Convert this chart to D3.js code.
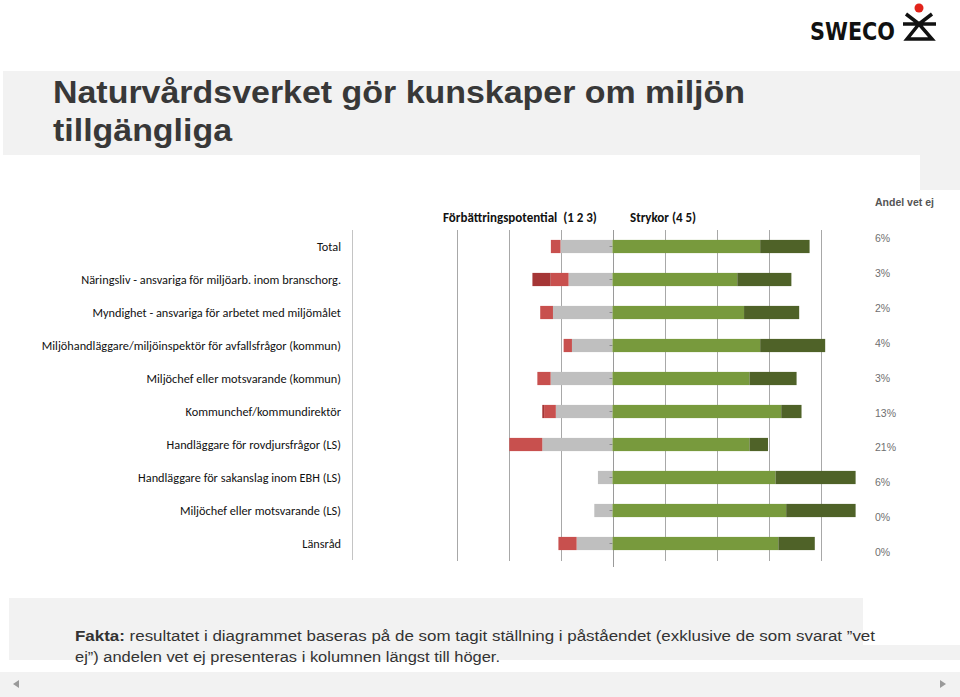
<!DOCTYPE html>
<html>
<head>
<meta charset="utf-8">
<script src="https://cdn.jsdelivr.net/npm/d3@7"></script>
<style>
  body { margin: 0; background: #fff; }
  svg { display: block; }
</style>
</head>
<body>
<script>
// data (percent of those who answered)
var categories = [
  "Total",
  "Näringsliv - ansvariga för miljöarb. inom branschorg.",
  "Myndighet - ansvariga för arbetet med miljömålet",
  "Miljöhandläggare/miljöinspektör för avfallsfrågor (kommun)",
  "Miljöchef eller motsvarande (kommun)",
  "Kommunchef/kommundirektör",
  "Handläggare för rovdjursfrågor (LS)",
  "Handläggare för sakanslag inom EBH (LS)",
  "Miljöchef eller motsvarande (LS)",
  "Länsråd"
];
var grade1 = [0, 7.0, 0, 0, 0, 0.7, 0, 0, 0, 0];
var grade2 = [3.7, 6.9, 4.9, 3.2, 5.1, 4.5, 12.7, 0, 0, 7.0];
var grade3 = [20.0, 16.9, 22.9, 15.6, 23.8, 21.8, 27.0, 5.6, 7.0, 13.8];
var grade4 = [56.8, 48.0, 50.6, 56.8, 52.7, 64.9, 52.7, 62.7, 66.8, 63.8];
var grade5 = [19.0, 20.8, 21.2, 25.0, 18.1, 7.8, 7.1, 30.8, 26.7, 14.0];
var vetEj = [6, 3, 2, 4, 3, 13, 21, 6, 0, 0];
var gridTicks = [-60, -40, -20, 0, 20, 40, 60, 80];

var title = ["Naturvårdsverket gör kunskaper om miljön", "tillgängliga"];
var legendNeg = "Förbättringspotential  (1 2 3)";
var legendPos = "Strykor (4 5)";
var vetEjTitle = "Andel vet ej";

var colors = {1: "#a53636", 2: "#c8504e", 3: "#bfbfbf", 4: "#789a3d", 5: "#4f6228"};

var svg = d3.select("body").append("svg").attr("width", 960).attr("height", 697);

// page background blocks
svg.append("rect").attr("x", 3).attr("y", 71).attr("width", 957).attr("height", 84).attr("fill", "#f2f2f2");
svg.append("rect").attr("x", 920).attr("y", 155).attr("width", 40).attr("height", 35).attr("fill", "#f2f2f2");
svg.append("rect").attr("x", 9).attr("y", 598).attr("width", 854).attr("height", 62).attr("fill", "#f2f2f2");
svg.append("rect").attr("x", 863).attr("y", 645).attr("width", 97).attr("height", 15).attr("fill", "#f2f2f2");
svg.append("rect").attr("x", 0).attr("y", 672).attr("width", 960).attr("height", 25).attr("fill", "#f2f2f2");
svg.append("path").attr("d", "M19,680 L13,684 L19,688 Z").attr("fill", "#9a9a9a");
svg.append("path").attr("d", "M940,680 L946,684 L940,688 Z").attr("fill", "#9a9a9a");

// logo
var logo = svg.append("g");
logo.append("text").attr("x", 810).attr("y", 40).text("SWECO")
  .attr("textLength", 85).attr("lengthAdjust", "spacingAndGlyphs")
  .style("font-family", "'DejaVu Sans', sans-serif").style("font-weight", "bold")
  .style("font-size", "24px").style("fill", "#111");
logo.append("circle").attr("cx", 919).attr("cy", 8).attr("r", 4.5).attr("fill", "#e2231a");
logo.append("path")
  .attr("d", "M906,14 L919,24 L932,14 M903,24 L936,24 M919,24 L907,39 L932,39 Z")
  .attr("fill", "none").attr("stroke", "#111").attr("stroke-width", 3.5).attr("stroke-linejoin", "miter");

// title
var titleLen = [692, 179];
svg.selectAll("text.title").data(title).enter().append("text")
  .attr("class", "title")
  .attr("x", 53)
  .attr("y", function(d, i) { return 103 + i * 38; })
  .attr("textLength", function(d, i) { return titleLen[i]; })
  .attr("lengthAdjust", "spacingAndGlyphs")
  .text(function(d) { return d; })
  .style("font-family", "'Liberation Sans', Arial, sans-serif")
  .style("font-weight", "bold").style("font-size", "32px").style("fill", "#383838");

// chart
var x = d3.scaleLinear().domain([-60, 80]).range([456.5, 820.5]);
var y = d3.scaleBand().domain(categories).range([230, 560]).paddingInner(0.6).paddingOuter(0.3);

var chart = svg.append("g");

chart.selectAll("line.grid").data(gridTicks).enter().append("line")
  .attr("x1", function(d) { return Math.round(x(d)) + 0.5; })
  .attr("x2", function(d) { return Math.round(x(d)) + 0.5; })
  .attr("y1", 230).attr("y2", function(d) { return d === 0 ? 567 : 561; })
  .attr("stroke", function(d) { return d === 0 ? "#9a9a9a" : "#a8a8a8"; })
  .attr("stroke-width", 1);

chart.append("line").attr("x1", 352.5).attr("x2", 352.5).attr("y1", 230).attr("y2", 560)
  .attr("stroke", "#c4c4c4");

// stacked segments
var rows = categories.map(function(c, i) {
  return {cat: c, g1: grade1[i], g2: grade2[i], g3: grade3[i], g4: grade4[i], g5: grade5[i]};
});
var segs = [];
rows.forEach(function(r) {
  var a = -r.g3, b = a - r.g2, c = b - r.g1;
  segs.push({cat: r.cat, k: 3, x0: a, x1: 0});
  segs.push({cat: r.cat, k: 2, x0: b, x1: a});
  segs.push({cat: r.cat, k: 1, x0: c, x1: b});
  segs.push({cat: r.cat, k: 4, x0: 0, x1: r.g4});
  segs.push({cat: r.cat, k: 5, x0: r.g4, x1: r.g4 + r.g5});
});
chart.selectAll("rect.seg").data(segs.filter(function(s) { return s.x1 - s.x0 > 0; }))
  .enter().append("rect")
  .attr("x", function(d) { return x(d.x0); })
  .attr("width", function(d) { return x(d.x1) - x(d.x0); })
  .attr("y", function(d) { return y(d.cat); })
  .attr("height", y.bandwidth())
  .attr("fill", function(d) { return colors[d.k]; });

// small ticks on the centre axis
chart.selectAll("line.tick").data(categories).enter().append("line")
  .attr("x1", x(0) - 3).attr("x2", x(0))
  .attr("y1", function(d) { return y(d) + y.bandwidth() / 2; })
  .attr("y2", function(d) { return y(d) + y.bandwidth() / 2; })
  .attr("stroke", "#8a8a8a");

// category labels
chart.selectAll("text.cat").data(categories).enter().append("text")
  .attr("x", 341)
  .attr("y", function(d) { return y(d) + y.bandwidth() / 2 + 4; })
  .attr("text-anchor", "end")
  .text(function(d) { return d; })
  .style("font-family", "Carlito, Lato, sans-serif")
  .style("font-size", "12.3px").style("fill", "#111");

// legend header
var lg = [{t: legendNeg, x: 443}, {t: legendPos, x: 630}];
chart.selectAll("text.lg").data(lg).enter().append("text")
  .attr("x", function(d) { return d.x; }).attr("y", 222)
  .text(function(d) { return d.t; })
  .style("white-space", "pre")
  .style("font-family", "Carlito, Lato, sans-serif").style("font-weight", "bold")
  .style("font-size", "13px").style("fill", "#111");

// "vet ej" column
svg.append("text").attr("x", 875).attr("y", 206).text(vetEjTitle)
  .style("font-family", "'Liberation Sans', Arial, sans-serif").style("font-weight", "bold")
  .style("font-size", "10.5px").style("fill", "#555");
svg.selectAll("text.vet").data(vetEj).enter().append("text")
  .attr("x", 875)
  .attr("y", function(d, i) { return 242 + i * 34.9; })
  .text(function(d) { return d + "%"; })
  .style("font-family", "'Liberation Sans', Arial, sans-serif")
  .style("font-size", "10.5px").style("fill", "#707070");

// fact text
var fakta = svg.append("g")
  .style("white-space", "pre")
  .style("font-family", "'Liberation Sans', Arial, sans-serif")
  .style("font-size", "15.5px").style("fill", "#333");
var l1 = fakta.append("text").attr("x", 75).attr("y", 641)
  .attr("textLength", 800).attr("lengthAdjust", "spacingAndGlyphs");
l1.append("tspan").style("font-weight", "bold").text("Fakta:");
l1.append("tspan").text(" resultatet i diagrammet baseras på de som tagit ställning i påståendet  (exklusive de som svarat ”vet");
fakta.append("text").attr("x", 75).attr("y", 662)
  .attr("textLength", 425).attr("lengthAdjust", "spacingAndGlyphs")
  .text("ej”)  andelen vet ej presenteras i kolumnen längst till höger.");
</script>
</body>
</html>
